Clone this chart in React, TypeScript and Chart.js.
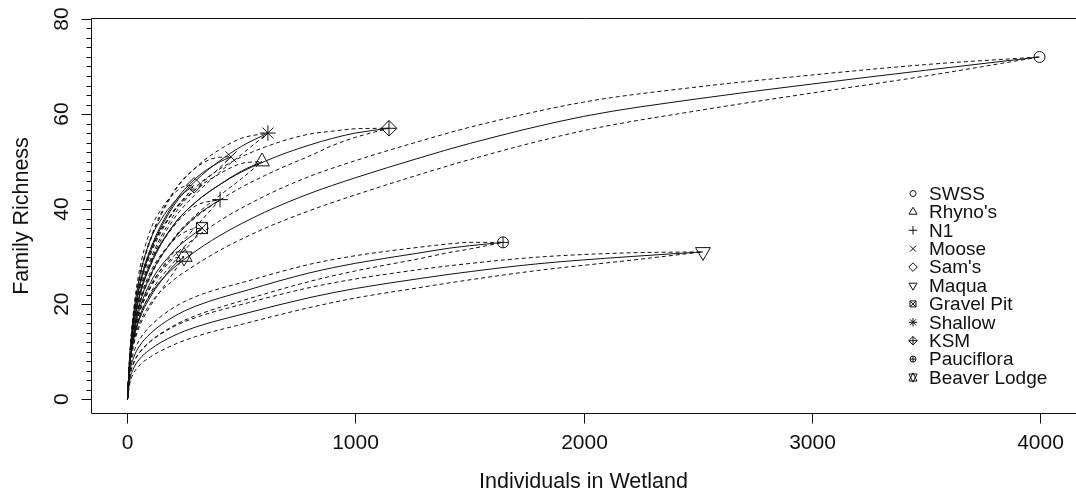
import React, { useEffect, useRef } from 'react';
import { Chart, registerables } from 'chart.js';

Chart.register(...registerables);

// ---- Data (individuals, family richness, lower / upper bounds) ----
const swssN = [0, 10, 25, 50, 100, 200, 274, 400, 600, 800, 1000, 1283, 1500, 2000, 2500, 3000, 3500, 4000];
const swssS = [0, 7, 12.3, 17, 22, 27.5, 30.3, 34.3, 39.3, 43.3, 46.6, 50.8, 53.8, 59.5, 63.2, 66.3, 69.2, 72];
const swssLo = [0, 6.4, 11.3, 15.6, 20.1, 25, 27.5, 31.2, 35.9, 39.7, 43, 47.3, 50.4, 56.5, 60.7, 64.4, 68, 72];
const swssHi = [0, 7.6, 13.3, 18.4, 23.9, 30, 33.1, 37.4, 42.7, 46.9, 50.2, 54.3, 57.2, 62.5, 65.7, 68.2, 70.4, 72];

const rhynoN = [0, 10, 25, 50, 100, 200, 300, 400, 500, 590];
const rhynoS = [0, 8, 14.5, 21, 28, 36.5, 41.5, 45, 48, 50];
const rhynoLo = [0, 7.3, 13.3, 19.3, 25.7, 33.7, 38.8, 42.7, 46.4, 50];
const rhynoHi = [0, 8.7, 15.7, 22.7, 30.3, 39.3, 44.2, 47.3, 49.6, 50];

const n1N = [0, 10, 25, 50, 100, 200, 300, 406];
const n1S = [0, 7.5, 13.5, 19.5, 26, 33.5, 38.5, 42];
const n1Lo = [0, 6.8, 12.3, 17.7, 23.6, 30.8, 36.3, 42];
const n1Hi = [0, 8.2, 14.7, 21.3, 28.4, 36.2, 40.7, 42];

const mooseN = [0, 10, 25, 50, 100, 200, 300, 400, 454];
const mooseS = [0, 8.5, 16, 23.5, 31.5, 41, 46.5, 49.8, 51];
const mooseLo = [0, 7.9, 14.9, 21.9, 29.3, 38.5, 44.3, 48.5, 51];
const mooseHi = [0, 9.1, 17.1, 25.1, 33.7, 43.5, 48.7, 50.9, 51];

const samsN = [0, 10, 25, 50, 100, 150, 200, 250, 292];
const samsS = [0, 8.8, 17, 25, 33.5, 38, 41.2, 43.5, 45];
const samsLo = [0, 8.3, 16, 23.5, 31.5, 35.9, 39.3, 42.2, 45];
const samsHi = [0, 9.3, 18, 26.5, 35.5, 40.1, 43.1, 44.8, 45];

const maquaN = [0, 10, 25, 50, 100, 200, 300, 529, 800, 1000, 1283, 1414, 1800, 2200, 2524];
const maquaS = [0, 4, 6.3, 8.3, 10.5, 13.3, 15.2, 18.2, 21.4, 23.3, 25.4, 26.3, 28.5, 30, 31];
const maquaLo = [0, 3.3, 5.3, 7, 8.9, 11.4, 13.2, 16.1, 19.3, 21.3, 23.5, 24.5, 27.1, 29.2, 31];
const maquaHi = [0, 4.7, 7.3, 9.6, 12.1, 15.2, 17.2, 20.3, 23.5, 25.3, 27.3, 28.1, 29.9, 30.8, 31];

const gravelN = [0, 10, 25, 50, 100, 200, 270, 327];
const gravelS = [0, 7.5, 13, 18.5, 24.5, 31, 34, 36];
const gravelLo = [0, 6.8, 11.8, 16.8, 22.3, 28.7, 32.4, 36];
const gravelHi = [0, 8.2, 14.2, 20.2, 26.7, 33.3, 35.6, 36];

const shallowN = [0, 10, 25, 50, 100, 200, 300, 400, 500, 616];
const shallowS = [0, 8.5, 16, 23, 31, 40.5, 46, 50, 53.2, 56];
const shallowLo = [0, 7.8, 14.8, 21.3, 28.7, 37.7, 43.2, 47.6, 51.5, 56];
const shallowHi = [0, 9.2, 17.2, 24.7, 33.3, 43.3, 48.8, 52.4, 54.9, 56];

const ksmN = [0, 10, 25, 50, 100, 200, 300, 400, 500, 600, 700, 800, 900, 1000, 1147];
const ksmS = [0, 8, 15, 21.5, 28.5, 36.5, 41.5, 45, 47.8, 50, 51.9, 53.5, 54.9, 56, 57];
const ksmLo = [0, 7.3, 13.8, 19.7, 26.1, 33.5, 38.3, 41.7, 44.6, 47, 49.2, 51.2, 53.4, 55.1, 57];
const ksmHi = [0, 8.7, 16.2, 23.3, 30.9, 39.5, 44.7, 48.3, 51, 53, 54.6, 55.8, 56.4, 56.9, 57];

const paucN = [0, 10, 25, 50, 100, 200, 300, 529, 800, 1000, 1283, 1414, 1500, 1647];
const paucS = [0, 5.5, 8.5, 11, 13.8, 17.3, 19.6, 23, 26.6, 28.6, 30.8, 31.8, 32.3, 33];
const paucLo = [0, 4.8, 7.5, 9.7, 12.2, 15.4, 17.6, 21.1, 24.8, 27, 29.6, 30.9, 31.6, 33];
const paucHi = [0, 6.2, 9.5, 12.3, 15.4, 19.2, 21.6, 24.9, 28.4, 30.2, 32, 32.7, 33, 33];

const beaverN = [0, 10, 25, 50, 100, 150, 200, 248];
const beaverS = [0, 7, 12, 16.5, 21.5, 25, 28, 30];
const beaverLo = [0, 6.3, 10.9, 15, 19.6, 23.1, 26.5, 30];
const beaverHi = [0, 7.7, 13.1, 18, 23.4, 26.9, 29.5, 30];

const siteNames = ['SWSS', "Rhyno's", 'N1', 'Moose', "Sam's", 'Maqua', 'Gravel Pit', 'Shallow', 'KSM', 'Pauciflora', 'Beaver Lodge'];
const sitePch = [1, 2, 3, 4, 5, 6, 7, 8, 9, 10, 11];

const xTicks = [0, 1000, 2000, 3000, 4000];
const yTicks = [0, 20, 40, 60, 80];
const xTitle = 'Individuals in Wetland';
const yTitle = 'Family Richness';

const SITES = [
  { n: swssN, s: swssS, lo: swssLo, hi: swssHi },
  { n: rhynoN, s: rhynoS, lo: rhynoLo, hi: rhynoHi },
  { n: n1N, s: n1S, lo: n1Lo, hi: n1Hi },
  { n: mooseN, s: mooseS, lo: mooseLo, hi: mooseHi },
  { n: samsN, s: samsS, lo: samsLo, hi: samsHi },
  { n: maquaN, s: maquaS, lo: maquaLo, hi: maquaHi },
  { n: gravelN, s: gravelS, lo: gravelLo, hi: gravelHi },
  { n: shallowN, s: shallowS, lo: shallowLo, hi: shallowHi },
  { n: ksmN, s: ksmS, lo: ksmLo, hi: ksmHi },
  { n: paucN, s: paucS, lo: paucLo, hi: paucHi },
  { n: beaverN, s: beaverS, lo: beaverLo, hi: beaverHi },
];

const FONT = '"Liberation Sans", Arial, Helvetica, sans-serif';
const INK = '#111';
const MARK_R = 5.5;

// R plotting symbols composed from Chart.js point styles: [style, rotation, radius factor]
const PCH_PARTS: Record<number, [string, number, number][]> = {
  1: [['circle', 0, 1]],
  2: [['triangle', 0, 1.555]],
  3: [['cross', 0, 1.414]],
  4: [['crossRot', 0, 1.414]],
  5: [['rectRot', 0, 1.414]],
  6: [['triangle', 180, 1.555]],
  7: [['rect', 0, 1.414], ['crossRot', 0, 1.414]],
  8: [['star', 0, 1.414]],
  9: [['rectRot', 0, 1.414], ['cross', 0, 1.414]],
  10: [['circle', 0, 1], ['cross', 0, 1]],
  11: [['triangle', 0, 1.7], ['triangle', 180, 1.7]],
};

// R-style plotting symbols for the legend (pch 1..11)
function drawPch(ctx: CanvasRenderingContext2D, pch: number, x: number, y: number, r: number) {
  const s2 = Math.SQRT2;
  const TRC0 = 1.5551, TRC1 = 1.3468, TRC2 = 0.7776;
  ctx.beginPath();
  switch (pch) {
    case 1:
      ctx.arc(x, y, r, 0, Math.PI * 2);
      break;
    case 2: {
      const R = TRC0 * r, xc = TRC1 * r, yc = TRC2 * r;
      ctx.moveTo(x, y - R); ctx.lineTo(x + xc, y + yc); ctx.lineTo(x - xc, y + yc); ctx.closePath();
      break;
    }
    case 6: {
      const R = TRC0 * r, xc = TRC1 * r, yc = TRC2 * r;
      ctx.moveTo(x, y + R); ctx.lineTo(x + xc, y - yc); ctx.lineTo(x - xc, y - yc); ctx.closePath();
      break;
    }
    case 3: {
      const c = s2 * r;
      ctx.moveTo(x - c, y); ctx.lineTo(x + c, y); ctx.moveTo(x, y - c); ctx.lineTo(x, y + c);
      break;
    }
    case 4:
      ctx.moveTo(x - r, y - r); ctx.lineTo(x + r, y + r); ctx.moveTo(x - r, y + r); ctx.lineTo(x + r, y - r);
      break;
    case 5: {
      const c = s2 * r;
      ctx.moveTo(x, y - c); ctx.lineTo(x + c, y); ctx.lineTo(x, y + c); ctx.lineTo(x - c, y); ctx.closePath();
      break;
    }
    case 7:
      ctx.rect(x - r, y - r, 2 * r, 2 * r);
      ctx.moveTo(x - r, y - r); ctx.lineTo(x + r, y + r); ctx.moveTo(x - r, y + r); ctx.lineTo(x + r, y - r);
      break;
    case 8: {
      const c = s2 * r;
      ctx.moveTo(x - r, y - r); ctx.lineTo(x + r, y + r); ctx.moveTo(x - r, y + r); ctx.lineTo(x + r, y - r);
      ctx.moveTo(x - c, y); ctx.lineTo(x + c, y); ctx.moveTo(x, y - c); ctx.lineTo(x, y + c);
      break;
    }
    case 9: {
      const c = s2 * r;
      ctx.moveTo(x, y - c); ctx.lineTo(x + c, y); ctx.lineTo(x, y + c); ctx.lineTo(x - c, y); ctx.closePath();
      ctx.moveTo(x - c, y); ctx.lineTo(x + c, y); ctx.moveTo(x, y - c); ctx.lineTo(x, y + c);
      break;
    }
    case 10:
      ctx.arc(x, y, r, 0, Math.PI * 2);
      ctx.moveTo(x - r, y); ctx.lineTo(x + r, y); ctx.moveTo(x, y - r); ctx.lineTo(x, y + r);
      break;
    case 11: {
      const R = TRC0 * r;
      const yc = 0.5 * (TRC2 * r + R);
      const xc = TRC1 * r;
      ctx.moveTo(x, y - R); ctx.lineTo(x + xc, y + yc); ctx.lineTo(x - xc, y + yc); ctx.closePath();
      ctx.moveTo(x, y + R); ctx.lineTo(x + xc, y - yc); ctx.lineTo(x - xc, y - yc); ctx.closePath();
      break;
    }
  }
  ctx.stroke();
}

const rAxesPlugin = {
  id: 'rAxes',
  afterDraw(chart: any) {
    const { ctx, chartArea: a, scales } = chart;
    const xs = scales.x, ys = scales.y;
    ctx.save();
    ctx.strokeStyle = INK;
    ctx.fillStyle = INK;
    ctx.lineWidth = 1;
    const L = Math.round(a.left) + 0.5;
    const T = Math.round(a.top) + 0.5;
    const B = Math.round(a.bottom) - 0.5;
    const Rr = Math.round(a.right) + 1.5; // right side of the box lies just outside the picture
    ctx.beginPath();
    ctx.moveTo(L, T); ctx.lineTo(Rr, T); ctx.lineTo(Rr, B); ctx.lineTo(L, B); ctx.closePath();
    ctx.stroke();

    // x axis ticks and labels
    ctx.font = `21px ${FONT}`;
    ctx.textAlign = 'center';
    ctx.textBaseline = 'middle';
    for (const v of xTicks) {
      const px = Math.round(xs.getPixelForValue(v)) + 0.5;
      ctx.beginPath(); ctx.moveTo(px, B); ctx.lineTo(px, B + 10); ctx.stroke();
      ctx.fillText(String(v), px, B + 30);
    }
    // y axis ticks (minor every 2) and labels
    for (let v = yTicks[0]; v <= yTicks[yTicks.length - 1]; v += 2) {
      const py = Math.round(ys.getPixelForValue(v)) + 0.5;
      const len = yTicks.includes(v) ? 10 : 5;
      ctx.beginPath(); ctx.moveTo(L - len, py); ctx.lineTo(L, py); ctx.stroke();
    }
    for (const v of yTicks) {
      const py = ys.getPixelForValue(v);
      ctx.save();
      ctx.translate(L - 29, py);
      ctx.rotate(-Math.PI / 2);
      ctx.fillText(String(v), 0, 0);
      ctx.restore();
    }
    // titles
    ctx.font = `21.5px ${FONT}`;
    ctx.fillText(xTitle, (a.left + a.right) / 2, 482);
    ctx.save();
    ctx.translate(22, (a.top + a.bottom) / 2);
    ctx.rotate(-Math.PI / 2);
    ctx.fillText(yTitle, 0, 0);
    ctx.restore();

    // legend
    ctx.font = `19px ${FONT}`;
    ctx.textAlign = 'left';
    const lx = 913, ly0 = 193.5, dy = 18.4;
    siteNames.forEach((name, i) => {
      const y = ly0 + i * dy;
      drawPch(ctx, sitePch[i], lx, y, 3);
      ctx.fillText(name, 929, y + 1);
    });
    ctx.restore();
  },
};

export default function App() {
  const ref = useRef<HTMLCanvasElement | null>(null);
  useEffect(() => {
    if (!ref.current) return;
    const datasets: any[] = [];
    SITES.forEach((site, i) => {
      const pts = (arr: number[]) => site.n.map((n, k) => ({ x: n, y: arr[k] }));
      const common = {
        borderColor: INK,
        borderWidth: 1,
        pointRadius: 0,
        fill: false,
        cubicInterpolationMode: 'monotone',
      };
      datasets.push({ label: siteNames[i] + ' hi', data: pts(site.hi), borderDash: [4, 3], ...common });
      datasets.push({ label: siteNames[i] + ' lo', data: pts(site.lo), borderDash: [4, 3], ...common });
      datasets.push({ label: siteNames[i], data: pts(site.s), ...common });
      const last = site.n.length - 1;
      PCH_PARTS[sitePch[i]].forEach(([style, rot, k], j) => {
        datasets.push({
          label: siteNames[i] + ' end ' + j,
          data: [{ x: site.n[last], y: site.s[last] }],
          showLine: false,
          pointStyle: style,
          pointRotation: rot,
          pointRadius: MARK_R * k,
          pointBorderWidth: 1,
          pointBorderColor: INK,
          pointBackgroundColor: 'rgba(0,0,0,0)',
          borderColor: INK,
          backgroundColor: 'rgba(0,0,0,0)',
        });
      });
    });
    const chart = new Chart(ref.current, {
      type: 'line',
      data: { datasets },
      options: {
        animation: false,
        responsive: false,
        devicePixelRatio: 1,
        layout: { autoPadding: false, padding: { left: 91, right: 0, top: 18, bottom: 86 } },
        scales: {
          x: { type: 'linear', min: -160, max: 4160, display: false },
          y: { type: 'linear', min: -3.1, max: 80.2, display: false },
        },
        plugins: { legend: { display: false }, tooltip: { enabled: false } },
        events: [],
      },
      plugins: [rAxesPlugin],
    } as any);
    return () => chart.destroy();
  }, []);
  return (
    <div style={{ position: 'absolute', left: 0, top: 0, width: 1076, height: 500, background: '#fff' }}>
      <canvas ref={ref} width={1076} height={500} style={{ display: 'block' }} />
    </div>
  );
}
